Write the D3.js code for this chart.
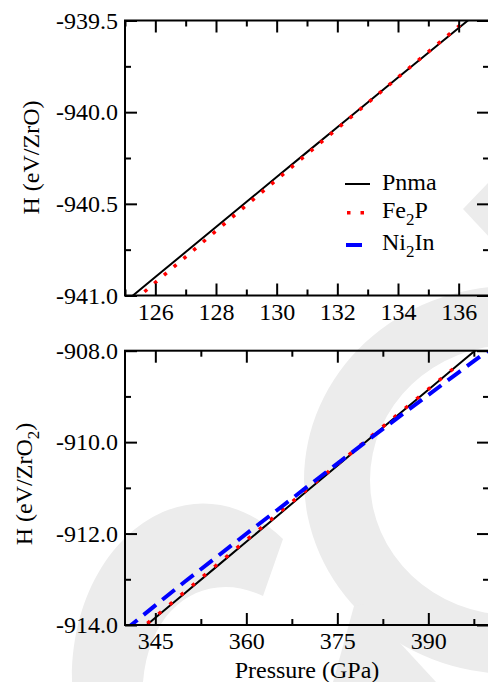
<!DOCTYPE html>
<html>
<head>
<meta charset="utf-8">
<script src="https://cdn.jsdelivr.net/npm/d3@7"></script>
<style>
    body { margin: 0; background: #fff; }
    svg { display: block; }
    text { font-family: "Liberation Serif", "Times New Roman", serif; fill: #000; }
</style>
</head>
<body>
<svg id="chart" width="488" height="682"></svg>
<script>
// ---- top panel (ZrO), pressure in GPa, enthalpy in eV
var pTop = [125, 126, 127, 128, 129, 130, 131, 132, 133, 134, 135, 136, 137];
var hPnmaTop = [-941.036, -940.899, -940.763, -940.626, -940.490, -940.354, -940.218,
    -940.082, -939.947, -939.811, -939.676, -939.541, -939.406];
var hFe2pTop = [-941.070, -940.929, -940.789, -940.648, -940.508, -940.368, -940.229,
    -940.089, -939.950, -939.810, -939.671, -939.532, -939.393];
var topXTicks = [126, 128, 130, 132, 134, 136];
var topXMinor = [125, 127, 129, 131, 133, 135, 137];
var topYTicks = [-941.0, -940.5, -940.0, -939.5];
var topYMinor = [-940.75, -940.25, -939.75];

// ---- bottom panel (ZrO2)
var pBot = [340, 345, 350, 355, 360, 365, 370, 375, 380, 385, 390, 395, 400];
var hPnmaBot = [-914.397, -913.843, -913.288, -912.734, -912.179, -911.625, -911.070,
    -910.516, -909.961, -909.407, -908.852, -908.298, -907.743];
var pFe2pBot = [340, 345, 350, 355, 360, 365, 370, 375, 380, 385, 390, 394.5];
var hFe2pBot = [-914.377, -913.818, -913.258, -912.699, -912.144, -911.590, -911.035,
    -910.486, -909.936, -909.387, -908.842, -908.353];
var hNi2inBot = [-914.110, -913.570, -913.038, -912.524, -912.004, -911.495, -910.980,
    -910.471, -909.961, -909.462, -908.967, -908.473, -907.983];
var botXTicks = [345, 360, 375, 390];
var botXMinor = [352.5, 367.5, 382.5, 397.5];
var botYTicks = [-914, -912, -910, -908];
var botYMinor = [-913, -911, -909];

var legendNames = ["Pnma", "Fe", "Ni"];

var svg = d3.select("#chart");

var plotLeft = 125, plotRight = 489;

// faint background watermark
var wm = svg.append("g").attr("fill", "#ececec");
function ellipsePath(cx, cy, rx, ry) {
    return "M" + (cx - rx) + "," + cy +
        "a" + rx + "," + ry + " 0 1,0 " + (2 * rx) + ",0" +
        "a" + rx + "," + ry + " 0 1,0 " + (-2 * rx) + ",0Z";
}
wm.append("path")
    .attr("fill-rule", "evenodd")
    .attr("d", ellipsePath(512, 480, 208, 194) + ellipsePath(512, 480, 142, 135));
wm.append("path").attr("d", "M463,209L490,181L490,238Z");
wm.append("path").attr("d", "M72,682C70,540 190,450 283,539L263,596C210,570 150,600 143,682Z");
wm.append("path").attr("d", "M333,682L354,606L364,604L436,682Z");

function drawPanel(cfg) {
    var x = d3.scaleLinear().domain(cfg.xDomain).range([plotLeft, plotRight]);
    var y = d3.scaleLinear().domain(cfg.yDomain).range([cfg.bottom, cfg.top]);

    var g = svg.append("g");

    var clipId = "clip-" + cfg.name;
    g.append("clipPath").attr("id", clipId)
        .append("rect")
        .attr("x", plotLeft).attr("y", cfg.top)
        .attr("width", plotRight - plotLeft).attr("height", cfg.bottom - cfg.top);

    var lines = g.append("g").attr("clip-path", "url(#" + clipId + ")");
    cfg.series.forEach(function (s) {
        var pts = s.p.map(function (p, i) { return [p, s.h[i]]; });
        lines.append("path")
            .datum(pts)
            .attr("fill", "none")
            .attr("stroke", s.color)
            .attr("stroke-width", s.width)
            .attr("stroke-dasharray", s.dash)
            .attr("d", d3.line()
                .x(function (d) { return x(d[0]); })
                .y(function (d) { return y(d[1]); }));
    });

    // axes, ticks pointing inward on all four sides
    function styleAxis(sel) {
        sel.select(".domain").remove();
        sel.selectAll("line").attr("stroke", "#000").attr("stroke-width", 2);
        sel.selectAll("text")
            .attr("font-family", "'Liberation Serif', 'Times New Roman', serif")
            .attr("font-size", 24);
    }

    g.append("g").attr("transform", "translate(0," + cfg.bottom + ")")
        .call(d3.axisBottom(x).tickValues(cfg.xTicks).tickSize(-12).tickPadding(7)
            .tickFormat(function (d) { return d; }))
        .call(styleAxis);
    g.append("g").attr("transform", "translate(0," + cfg.bottom + ")")
        .call(d3.axisBottom(x).tickValues(cfg.xMinor).tickSize(-6).tickFormat(""))
        .call(styleAxis);
    g.append("g").attr("transform", "translate(0," + cfg.top + ")")
        .call(d3.axisTop(x).tickValues(cfg.xTicks).tickSize(-12).tickFormat(""))
        .call(styleAxis);
    g.append("g").attr("transform", "translate(0," + cfg.top + ")")
        .call(d3.axisTop(x).tickValues(cfg.xMinor).tickSize(-6).tickFormat(""))
        .call(styleAxis);

    g.append("g").attr("transform", "translate(" + plotLeft + ",0)")
        .call(d3.axisLeft(y).tickValues(cfg.yTicks).tickSize(-12).tickPadding(7)
            .tickFormat(function (d) { return d.toFixed(1); }))
        .call(styleAxis);
    g.append("g").attr("transform", "translate(" + plotLeft + ",0)")
        .call(d3.axisLeft(y).tickValues(cfg.yMinor).tickSize(-6).tickFormat(""))
        .call(styleAxis);
    g.append("g").attr("transform", "translate(" + plotRight + ",0)")
        .call(d3.axisRight(y).tickValues(cfg.yTicks).tickSize(-12).tickFormat(""))
        .call(styleAxis);
    g.append("g").attr("transform", "translate(" + plotRight + ",0)")
        .call(d3.axisRight(y).tickValues(cfg.yMinor).tickSize(-6).tickFormat(""))
        .call(styleAxis);

    g.append("rect")
        .attr("x", plotLeft).attr("y", cfg.top)
        .attr("width", plotRight - plotLeft).attr("height", cfg.bottom - cfg.top)
        .attr("fill", "none").attr("stroke", "#000").attr("stroke-width", 2);

    // y title
    var t = g.append("text")
        .attr("transform", "translate(" + cfg.titleX + "," + cfg.titleY + ") rotate(-90)")
        .attr("text-anchor", "middle")
        .attr("font-size", 24);
    t.append("tspan").text(cfg.title);
    if (cfg.titleSub) {
        t.append("tspan").attr("dy", 7).attr("font-size", 17).text(cfg.titleSub);
        t.append("tspan").attr("dy", -7).text(")");
    }
    return {x: x, y: y};
}

drawPanel({
    name: "top", top: 20.5, bottom: 295.5,
    xDomain: [125, 137], yDomain: [-941.0, -939.5],
    xTicks: topXTicks, xMinor: topXMinor, yTicks: topYTicks, yMinor: topYMinor,
    titleX: 39, titleY: 157.5, title: "H (eV/ZrO)",
    series: [
        {p: pTop, h: hPnmaTop, color: "#000", width: 2, dash: null},
        {p: pTop, h: hFe2pTop, color: "#ff0000", width: 3.5, dash: "3.5,9.3"}
    ]
});

drawPanel({
    name: "bot", top: 350.7, bottom: 625,
    xDomain: [340, 400], yDomain: [-914, -908],
    xTicks: botXTicks, xMinor: botXMinor, yTicks: botYTicks, yMinor: botYMinor,
    titleX: 31.5, titleY: 484, title: "H (eV/ZrO", titleSub: "2",
    series: [
        {p: pBot, h: hPnmaBot, color: "#000", width: 2, dash: null},
        {p: pFe2pBot, h: hFe2pBot, color: "#ff0000", width: 3.5, dash: "3.5,11.1"},
        {p: pBot, h: hNi2inBot, color: "#0000ff", width: 4, dash: "16,8"}
    ]
});

// x title
svg.append("text")
    .attr("x", 307).attr("y", 678)
    .attr("text-anchor", "middle")
    .attr("font-size", 24)
    .text("Pressure (GPa)");

// legend
var legend = svg.append("g");
legend.append("line").attr("x1", 345).attr("x2", 370).attr("y1", 184).attr("y2", 184)
    .attr("stroke", "#000").attr("stroke-width", 2);
legend.append("line").attr("x1", 347).attr("x2", 370).attr("y1", 212.7).attr("y2", 212.7)
    .attr("stroke", "#ff0000").attr("stroke-width", 3.5).attr("stroke-dasharray", "3.5,10");
legend.append("line").attr("x1", 346).attr("x2", 370).attr("y1", 245).attr("y2", 245)
    .attr("stroke", "#0000ff").attr("stroke-width", 4).attr("stroke-dasharray", "16,8");

legend.append("text").attr("x", 382).attr("y", 190).attr("font-size", 24).text(legendNames[0]);
var fe = legend.append("text").attr("x", 382).attr("y", 217.5).attr("font-size", 24);
fe.append("tspan").text(legendNames[1]);
fe.append("tspan").attr("dy", 7).attr("font-size", 17).text("2");
fe.append("tspan").attr("dy", -7).text("P");
var ni = legend.append("text").attr("x", 382).attr("y", 249.5).attr("font-size", 24);
ni.append("tspan").text(legendNames[2]);
ni.append("tspan").attr("dy", 7).attr("font-size", 17).text("2");
ni.append("tspan").attr("dy", -7).text("In");
</script>
</body>
</html>
